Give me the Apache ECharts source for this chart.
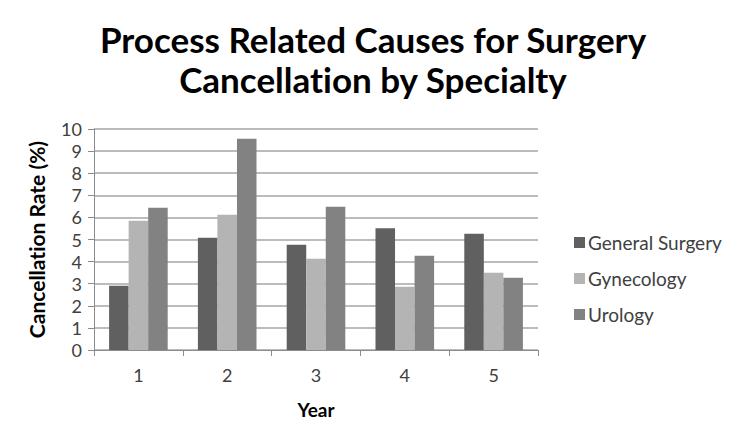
<!DOCTYPE html>
<html><head><meta charset="utf-8">
<script src="https://cdn.jsdelivr.net/npm/echarts@6/dist/echarts.min.js"></script>
<style>html,body{margin:0;padding:0;background:#fff}#c{width:733px;height:424px}#c text{font-variant-ligatures:none;font-feature-settings:"liga" 0,"clig" 0}</style>
</head><body><div id="c"></div>
<script>
var categories = ['1','2','3','4','5'];
var seriesNames = ['General Surgery','Gynecology','Urology'];
var generalSurgery = [2.91, 5.08, 4.76, 5.51, 5.26];
var gynecology = [5.85, 6.12, 4.13, 2.86, 3.50];
var urology = [6.44, 9.56, 6.48, 4.27, 3.27];
var colors = ['#606060','#b4b4b4','#828282'];
var font = 'Lato';
var chart = echarts.init(document.getElementById('c'), null, {renderer:'svg'});
chart.setOption({
  animation:false,
  color: colors,
  title:{
    text:'Process Related Causes for Surgery\nCancellation by Specialty',
    top:14, left: 368, textAlign:'center',
    textStyle:{fontFamily:font, fontWeight:'bold', fontSize:35, lineHeight:40, color:'#000'}
  },
  legend:{
    orient:'vertical', left:569, top:228, itemGap:17, itemWidth:11, itemHeight:11,
    icon:'rect',
    textStyle:{fontFamily:font, fontSize:19, color:'#404040', padding:[0,0,0,-2]},
    data: seriesNames
  },
  grid:{left:94, right:195, top:129, bottom:74, outerBoundsMode:'none', containLabel:false},
  xAxis:{
    type:'category', data:categories,
    name:'Year', nameLocation:'middle', nameGap:50,
    nameTextStyle:{fontFamily:font, fontWeight:'bold', fontSize:19, color:'#000'},
    axisLine:{lineStyle:{color:'#8c8c8c', width:1}},
    axisTick:{show:true, length:6, lineStyle:{color:'#8c8c8c'}},
    axisLabel:{fontFamily:font, fontSize:18, color:'#404040', margin:16}
  },
  yAxis:{
    type:'value', min:0, max:10, interval:1,
    name:'Cancellation Rate (%)', nameLocation:'middle', nameGap:47,
    nameTextStyle:{fontFamily:font, fontWeight:'bold', fontSize:21, color:'#000'},
    axisLine:{show:true, lineStyle:{color:'#8c8c8c', width:1}},
    axisTick:{show:true, length:6, lineStyle:{color:'#8c8c8c'}},
    axisLabel:{fontFamily:font, fontSize:18, color:'#404040', margin:12},
    splitLine:{lineStyle:{color:'#a6a6a6', width:1.5}}
  },
  series:[
    {name:seriesNames[0], type:'bar', data:generalSurgery, barGap:'0%', barCategoryGap:'34%'},
    {name:seriesNames[1], type:'bar', data:gynecology, barGap:'0%', barCategoryGap:'34%'},
    {name:seriesNames[2], type:'bar', data:urology, barGap:'0%', barCategoryGap:'34%'}
  ]
});
</script></body></html>
